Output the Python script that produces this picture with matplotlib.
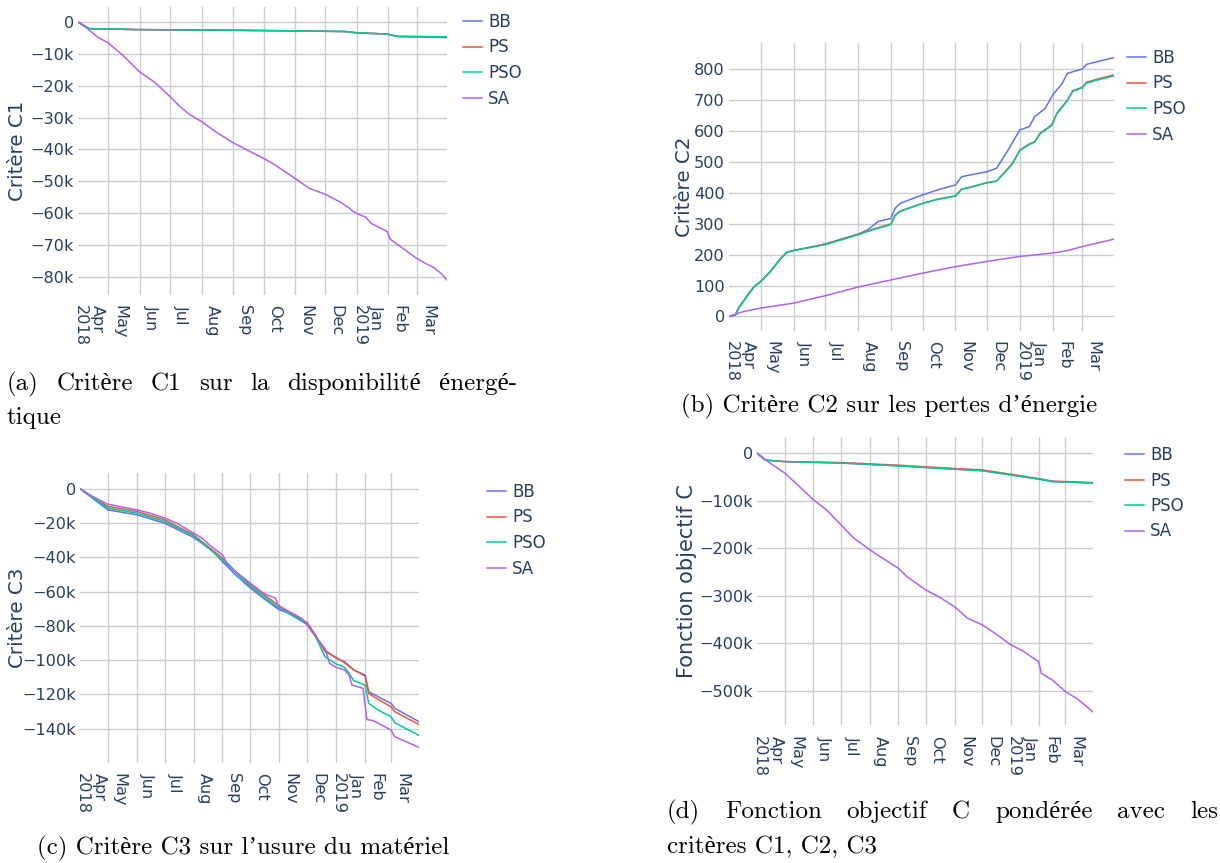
import matplotlib
matplotlib.use("Agg")
import matplotlib.pyplot as plt
import numpy as np
from matplotlib.transforms import ScaledTranslation

W, H, DPI = 1220, 863, 100

# ---------------- data ----------------
SERIES = ["BB", "PS", "PSO", "SA"]
COLORS = ["#636efa", "#EF553B", "#00cc96", "#ab63fa"]

MONTH_TICKS = ["2018-04-01", "2018-05-01", "2018-06-01", "2018-07-01", "2018-08-01",
               "2018-09-01", "2018-10-01", "2018-11-01", "2018-12-01", "2019-01-01",
               "2019-02-01", "2019-03-01"]
MONTH_LABELS = ["Apr\n2018", "May", "Jun", "Jul", "Aug", "Sep", "Oct", "Nov", "Dec",
                "Jan\n2019", "Feb", "Mar"]
X_START, X_END = "2018-04-01", "2019-03-31"

# (a) Critere C1 (values in thousands)
A_SA_DATES = ["2018-04-01", "2018-04-10", "2018-04-20", "2018-05-01", "2018-05-15", "2018-06-01",
              "2018-06-15", "2018-06-20", "2018-07-01", "2018-07-10", "2018-07-20", "2018-08-01",
              "2018-08-15", "2018-09-01", "2018-09-15", "2018-10-01", "2018-10-10", "2018-10-20",
              "2018-11-01", "2018-11-15", "2018-12-01", "2018-12-15", "2018-12-25", "2018-12-28",
              "2019-01-01", "2019-01-10", "2019-01-15", "2019-01-25", "2019-01-31", "2019-02-03",
              "2019-02-10", "2019-02-20", "2019-03-01", "2019-03-10", "2019-03-18", "2019-03-25",
              "2019-03-31"]
A_SA = [0, -2.0, -4.7, -6.6, -10.4, -15.7, -18.8, -20.2, -23.5, -26.4, -29.0, -31.3, -34.5,
        -37.9, -40.2, -42.8, -44.4, -46.5, -49.1, -52.2, -54.1, -56.4, -58.5, -59.4, -60.1,
        -61.3, -63.2, -64.8, -65.8, -68.2, -69.8, -72.1, -74.2, -75.8, -77.1, -78.9, -81.0]
A_FLAT_DATES = ["2018-04-01", "2018-04-12", "2018-06-01", "2018-09-01", "2018-11-01",
                "2018-12-20", "2019-01-01", "2019-01-31", "2019-02-10", "2019-03-31"]
A_BB = [0, -2.1, -2.4, -2.6, -2.8, -3.0, -3.4, -3.8, -4.6, -4.9]
A_PS = [0, -2.1, -2.4, -2.6, -2.8, -3.0, -3.4, -3.8, -4.5, -4.7]
A_PSO = [0, -2.1, -2.4, -2.6, -2.8, -3.0, -3.4, -3.8, -4.5, -4.7]

# (b) Critere C2
B_DATES = ["2018-04-01", "2018-04-07", "2018-04-10", "2018-04-20", "2018-04-25", "2018-05-01",
           "2018-05-10", "2018-05-20", "2018-05-26", "2018-06-01", "2018-07-01", "2018-08-01",
           "2018-08-15", "2018-09-01", "2018-09-05", "2018-09-10", "2018-10-01", "2018-10-15",
           "2018-11-01", "2018-11-07", "2018-11-15", "2018-12-01", "2018-12-10", "2018-12-15",
           "2018-12-25", "2019-01-01", "2019-01-10", "2019-01-15", "2019-01-20", "2019-01-31",
           "2019-02-05", "2019-02-15", "2019-02-20", "2019-03-01", "2019-03-05", "2019-03-15",
           "2019-03-31"]
B_PS = [0, 5, 27, 75, 97, 113, 145, 188, 208, 213, 234, 266, 282, 299, 328, 341, 366, 379,
        390, 412, 418, 433, 438, 457, 495, 538, 558, 565, 592, 619, 657, 700, 730, 741, 757,
        767, 781]
B_PSO = [0, 5, 27, 75, 97, 113, 145, 188, 208, 213, 232, 264, 280, 297, 326, 340, 365, 378,
         389, 411, 417, 432, 437, 455, 493, 536, 556, 563, 590, 617, 655, 698, 728, 739, 754,
         764, 778]
B_BB_DATES = ["2018-04-01", "2018-04-07", "2018-04-10", "2018-04-20", "2018-04-25", "2018-05-01",
              "2018-05-10", "2018-05-20", "2018-05-26", "2018-06-01", "2018-07-01", "2018-08-01",
              "2018-08-10", "2018-08-20", "2018-09-01", "2018-09-05", "2018-09-10", "2018-10-01",
              "2018-10-15", "2018-11-01", "2018-11-07", "2018-12-01", "2018-12-10", "2018-12-20",
              "2019-01-01", "2019-01-10", "2019-01-15", "2019-01-25", "2019-02-01", "2019-02-10",
              "2019-02-15", "2019-03-01", "2019-03-05", "2019-03-31"]
B_BB = [0, 5, 27, 75, 97, 113, 145, 188, 208, 213, 234, 266, 280, 307, 317, 350, 366, 393,
        409, 425, 452, 468, 479, 533, 603, 614, 646, 673, 716, 753, 786, 800, 815, 837]
B_SA_DATES = ["2018-04-01", "2018-04-15", "2018-05-01", "2018-06-01", "2018-07-01",
              "2018-08-01", "2018-09-01", "2018-10-01", "2018-11-01", "2018-12-01",
              "2019-01-01", "2019-02-01", "2019-02-15", "2019-03-01", "2019-03-31"]
B_SA = [0, 16, 27, 43, 67, 95, 118, 140, 161, 178, 194, 205, 213, 226, 250]

# (c) Critere C3 (values in thousands)
C_SA_DATES = ["2018-04-01", "2018-04-10", "2018-04-20", "2018-05-01", "2018-06-01", "2018-06-15",
              "2018-07-01", "2018-07-15", "2018-08-01", "2018-08-10", "2018-08-20", "2018-09-01",
              "2018-09-05", "2018-09-15", "2018-10-01", "2018-10-15", "2018-10-28", "2018-11-01",
              "2018-11-15", "2018-11-25", "2018-12-01", "2018-12-10", "2018-12-20", "2018-12-25",
              "2019-01-01", "2019-01-10", "2019-01-15", "2019-01-18", "2019-01-30", "2019-02-03",
              "2019-02-10", "2019-03-01", "2019-03-05", "2019-03-31"]
C_SA = [0, -3.1, -6.0, -9.0, -12.3, -14.2, -17.1, -20.4, -25.9, -28.8, -33.7, -38.6, -42.5,
        -48.3, -55.1, -61.0, -63.9, -69.3, -72.6, -75.6, -79.5, -86.3, -93.1, -101.8, -104.2,
        -105.7, -108.7, -114.5, -116.5, -134.6, -135.3, -140.8, -144.7, -150.9]
C_BB_DATES = ["2018-04-01", "2018-05-01", "2018-06-01", "2018-07-01", "2018-08-01", "2018-08-20",
              "2018-09-01", "2018-09-15", "2018-10-01", "2018-10-15", "2018-11-01", "2018-11-15",
              "2018-12-01", "2018-12-10", "2018-12-20", "2019-01-01", "2019-01-10", "2019-01-20",
              "2019-02-01", "2019-02-05", "2019-02-15", "2019-03-01", "2019-03-05", "2019-03-31"]
C_BB = [0, -12.3, -15.2, -20.1, -28.4, -35.6, -42.5, -50.2, -58.0, -63.9, -70.7, -73.0,
        -79.5, -86.3, -94.1, -98.9, -100.9, -105.7, -108.7, -118.4, -121.3, -125.2, -128.1,
        -135.9]
C_PS_DATES = ["2018-04-01", "2018-05-01", "2018-06-01", "2018-07-01", "2018-08-01", "2018-09-01",
              "2018-09-05", "2018-10-01", "2018-11-01", "2018-12-01", "2018-12-10", "2018-12-20",
              "2019-01-01", "2019-01-10", "2019-01-20", "2019-02-01", "2019-02-05", "2019-02-15",
              "2019-03-01", "2019-03-05", "2019-03-31"]
C_PS = [0, -10.3, -13.2, -18.1, -26.9, -40.5, -43.4, -56.1, -68.4, -78.1, -85.3, -95.1, -98.3,
        -101.5, -105.7, -109.2, -119.4, -122.9, -127.2, -130.1, -137.5]
C_PSO_DATES = ["2018-04-01", "2018-05-01", "2018-06-01", "2018-07-01", "2018-08-01", "2018-09-01",
               "2018-10-01", "2018-11-01", "2018-12-01", "2018-12-10", "2018-12-20", "2019-01-01",
               "2019-01-10", "2019-01-15", "2019-01-20", "2019-02-01", "2019-02-05", "2019-02-15",
               "2019-03-01", "2019-03-05", "2019-03-31"]
C_PSO = [0, -11.3, -14.2, -19.1, -27.5, -41.5, -57.1, -69.7, -79.1, -86.3, -98.0, -102.2,
         -104.2, -107.7, -112.0, -114.5, -125.2, -129.1, -133.0, -136.5, -143.9]

# (d) Fonction objectif C (values in thousands)
D_SA_DATES = ["2018-04-01", "2018-04-15", "2018-05-01", "2018-05-15", "2018-06-01", "2018-06-15",
              "2018-07-01", "2018-07-15", "2018-08-01", "2018-08-15", "2018-09-01", "2018-09-10",
              "2018-10-01", "2018-10-15", "2018-11-01", "2018-11-15", "2018-12-01", "2018-12-15",
              "2018-12-25", "2019-01-01", "2019-01-15", "2019-01-20", "2019-01-31", "2019-02-03",
              "2019-02-15", "2019-03-01", "2019-03-15", "2019-03-31"]
D_SA = [0, -21, -42, -67, -98, -119, -151, -179, -203, -221, -242, -259, -288, -302, -323,
        -347, -361, -379, -393, -403, -417, -424, -438, -463, -477, -501, -518, -544]
D_FLAT_DATES = ["2018-04-01", "2018-04-10", "2018-05-01", "2018-07-01", "2018-09-01",
                "2018-11-01", "2018-12-01", "2019-01-01", "2019-02-01", "2019-02-15", "2019-03-31"]
D_BB = [0, -15, -18, -21, -27, -34, -37, -46, -55, -60, -63]
D_PS = [0, -15, -18, -20, -25.5, -32.5, -35.5, -44.5, -54, -59, -62]
D_PSO = [0, -15, -18, -21, -27, -34, -37, -46, -55, -60, -63]

# ---------------- style ----------------
TXT = "#2a3f5f"
GRID = "#c9ccd3"
SANS = ["DejaVu Sans"]
SERIF = ["cmr10", "Liberation Serif", "DejaVu Serif"]
TICK_FS, LEG_FS, TITLE_FS, CAP_FS = 11.6, 12, 14.3, 18

plt.rcParams["axes.formatter.use_mathtext"] = False
fig = plt.figure(figsize=(W / DPI, H / DPI), dpi=DPI)
fig.patch.set_facecolor("white")


def d64(lst):
    return np.array(lst, dtype="datetime64[D]")


def panel(rect, series, yticks, ylabels, ylim, ytitle, title_x, legend_xy, title_fs=TITLE_FS):
    x0, y0, x1, y1 = rect
    ax = fig.add_axes([x0 / W, 1 - y1 / H, (x1 - x0) / W, (y1 - y0) / H])
    ax.set_facecolor("white")
    for (name, color, (dates, vals)) in zip(SERIES, COLORS, series):
        ax.plot(d64(dates), vals, color=color, lw=1.1, label=name,
                solid_joinstyle="round", zorder=3)
    ax.set_xlim(np.datetime64(X_START), np.datetime64(X_END))
    ax.set_ylim(*ylim)
    ax.set_yticks(yticks, ylabels)
    ax.set_xticks(d64(MONTH_TICKS), MONTH_LABELS)
    for s in ax.spines.values():
        s.set_visible(False)
    ax.tick_params(axis="both", length=0, labelsize=TICK_FS, labelcolor=TXT)
    ax.tick_params(axis="y", pad=3)
    ax.tick_params(axis="x", pad=7)
    ax.grid(axis="y", color=GRID, lw=1.0, zorder=0)
    for t in MONTH_TICKS[1:]:
        ax.axvline(np.datetime64(t), color=GRID, lw=1.0, zorder=0)
    off = ScaledTranslation(11 / DPI, 0, fig.dpi_scale_trans)
    for lab in ax.get_xticklabels():
        lab.set_rotation(-90)
        lab.set_ha("center")
        lab.set_va("top")
        lab.set_multialignment("left")
        lab.set_fontfamily(SANS)
        lab.set_transform(lab.get_transform() + off)
    for lab in ax.get_yticklabels():
        lab.set_fontfamily(SANS)
    ax.set_ylabel(ytitle, fontsize=title_fs, color=TXT, family=SANS,
                  va="center", ha="center", rotation=90, rotation_mode="anchor")
    ax.yaxis.set_label_coords((title_x - x0) / (x1 - x0), 0.5)
    lx, ly = legend_xy
    ax.legend(loc="upper left", bbox_to_anchor=(lx / W, 1 - ly / H),
              bbox_transform=fig.transFigure, frameon=False, borderpad=0,
              borderaxespad=0, handlelength=1.15, handletextpad=0.35,
              labelspacing=0.45, prop={"family": SANS, "size": LEG_FS},
              labelcolor=TXT)
    return ax


def kfmt(v):
    return "0" if v == 0 else "\u2212%dk" % abs(v)


# (a)
panel((78, 7, 447, 295),
      [(A_FLAT_DATES, A_BB), (A_FLAT_DATES, A_PS), (A_FLAT_DATES, A_PSO), (A_SA_DATES, A_SA)],
      list(range(0, -81, -10)), [kfmt(v) for v in range(0, -81, -10)],
      (-85.7, 4.7), "Critère C1", 18, (463, 13))
# (b)
panel((729, 43, 1114, 331),
      [(B_BB_DATES, B_BB), (B_DATES, B_PS), (B_DATES, B_PSO), (B_SA_DATES, B_SA)],
      list(range(0, 801, 100)), [str(v) for v in range(0, 801, 100)],
      (-47, 884), "Critère C2", 684, (1127, 49))
# (c)
panel((80, 473, 419, 763),
      [(C_BB_DATES, C_BB), (C_PS_DATES, C_PS), (C_PSO_DATES, C_PSO), (C_SA_DATES, C_SA)],
      list(range(0, -141, -20)), [kfmt(v) for v in range(0, -141, -20)],
      (-160, 9.2), "Critère C3", 18, (487, 483))
# (d)
panel((757, 437, 1093, 726),
      [(D_FLAT_DATES, D_BB), (D_FLAT_DATES, D_PS), (D_FLAT_DATES, D_PSO), (D_SA_DATES, D_SA)],
      list(range(0, -501, -100)), [kfmt(v) for v in range(0, -501, -100)],
      (-573.6, 33.7), "Fonction objectif C", 687, (1125, 446), title_fs=15)

# ---------------- captions ----------------
renderer = fig.canvas.get_renderer()


def caption(text, x, y_base, ha="left"):
    return fig.text(x / W, 1 - y_base / H, text, family=SERIF, size=CAP_FS,
                    ha=ha, va="baseline", color="black")


def justified(text, x_left, x_right, y_base):
    words = text.split(" ")
    objs = [caption(w, 0, y_base) for w in words]
    widths = [o.get_window_extent(renderer).width for o in objs]
    gap = (x_right - x_left - sum(widths)) / (len(words) - 1)
    x = x_left
    for o, w in zip(objs, widths):
        o.set_x(x / W)
        x += w + gap


justified("(a) Critère C1 sur la disponibilité énergé-", 7, 517, 390)
caption("tique", 7, 424)
caption("(b) Critère C2 sur les pertes d’énergie", 889, 412, ha="center")
caption("(c) Critère C3 sur l’usure du matériel", 243.5, 854, ha="center")
justified("(d) Fonction objectif C pondérée avec les", 667, 1218, 818)
caption("critères C1, C2, C3", 667, 853)

fig.savefig("out.png", dpi=DPI, facecolor="white")
